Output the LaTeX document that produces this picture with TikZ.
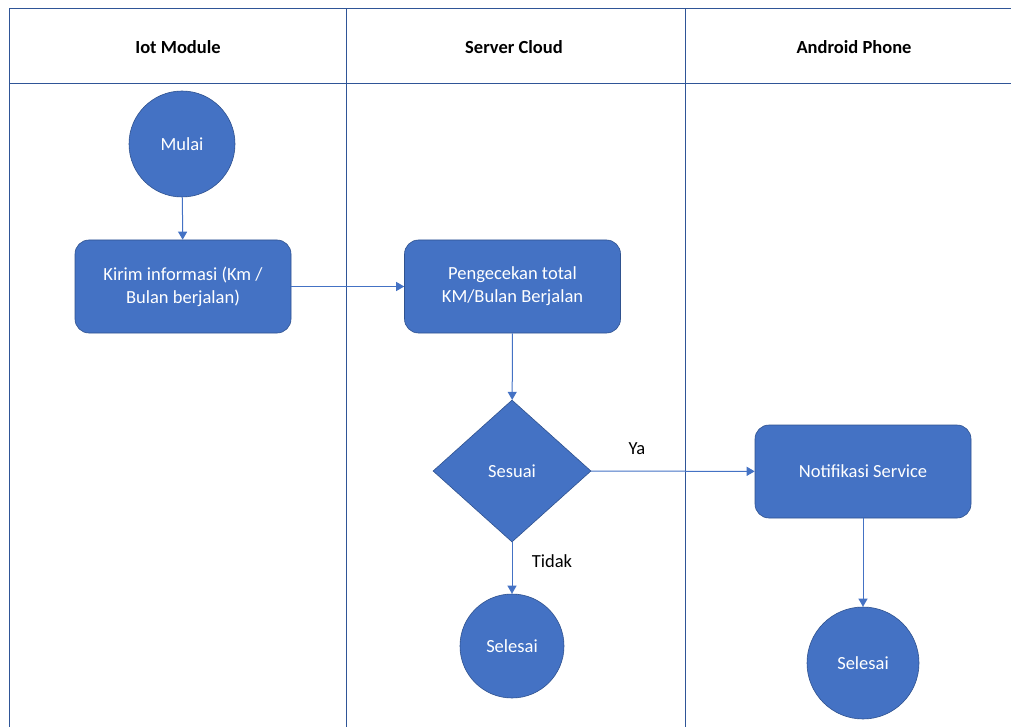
\documentclass[tikz,border=0pt]{standalone}
\usepackage{fontspec}
\setmainfont{Carlito}
\usetikzlibrary{shapes.geometric,arrows.meta}
\definecolor{fillblue}{HTML}{4472C4}
\definecolor{edgeblue}{HTML}{2F528F}
\definecolor{lineblue}{HTML}{4472C4}
\definecolor{gridblue}{HTML}{2F5597}
\begin{document}
\begin{tikzpicture}[x=1pt,y=-1pt,
  shapebase/.style={fill=fillblue,draw=edgeblue,line width=0.6pt,text=white,font=\fontsize{18.5}{23}\selectfont,align=center,inner sep=0pt},
  procbox/.style={shapebase,rectangle,rounded corners=14pt,minimum width=216pt,minimum height=93pt},
  termcirc/.style={shapebase,circle},
  decide/.style={shapebase,diamond,minimum width=158pt,minimum height=142pt,aspect=1.11},
  flow/.style={draw=lineblue,line width=1pt,-{Triangle[length=8pt,width=9pt]}},
  grid/.style={draw=gridblue,line width=1pt},
  header/.style={font=\fontsize{18.5}{22}\selectfont\bfseries,text=black},
  lbl/.style={font=\fontsize{18.5}{22}\selectfont,text=black}]
\useasboundingbox (0,0) rectangle (1011,727);
% swimlane grid
\draw[grid] (1011,9) -- (9,9) -- (9,727);
\draw[grid] (9,84) -- (1011,84);
\draw[grid] (346,9) -- (346,727);
\draw[grid] (685,9) -- (685,727);
\node[header] (h1) at (178,47) {Iot Module};
\node[header] (h2) at (514,47) {Server Cloud};
\node[header] (h3) at (854,47) {Android Phone};
% shapes
\node[termcirc,minimum size=106pt] (mulai) at (182,144) {Mulai};
\node[procbox] (kirim) at (183,286.5) {Kirim informasi (Km /\\Bulan berjalan)};
\node[procbox] (cek) at (512.5,286.5) {Pengecekan total\\KM/Bulan Berjalan};
\node[decide] (sesuai) at (512,471) {Sesuai};
\node[procbox] (notif) at (863,471.5) {Notifikasi Service};
\node[termcirc,minimum size=104pt] (sel1) at (512,646) {Selesai};
\node[termcirc,minimum size=112pt] (sel2) at (863,663) {Selesai};
% connectors
\draw[flow] (mulai) -- (kirim);
\draw[flow] (kirim) -- (cek);
\draw[flow] (cek) -- (sesuai);
\draw[flow] (sesuai) -- (notif);
\draw[flow] (sesuai) -- (sel1);
\draw[flow] (notif) -- (sel2);
\node[lbl] (ya) at (637,449) {Ya};
\node[lbl] (tidak) at (552,561) {Tidak};
\end{tikzpicture}
\end{document}
